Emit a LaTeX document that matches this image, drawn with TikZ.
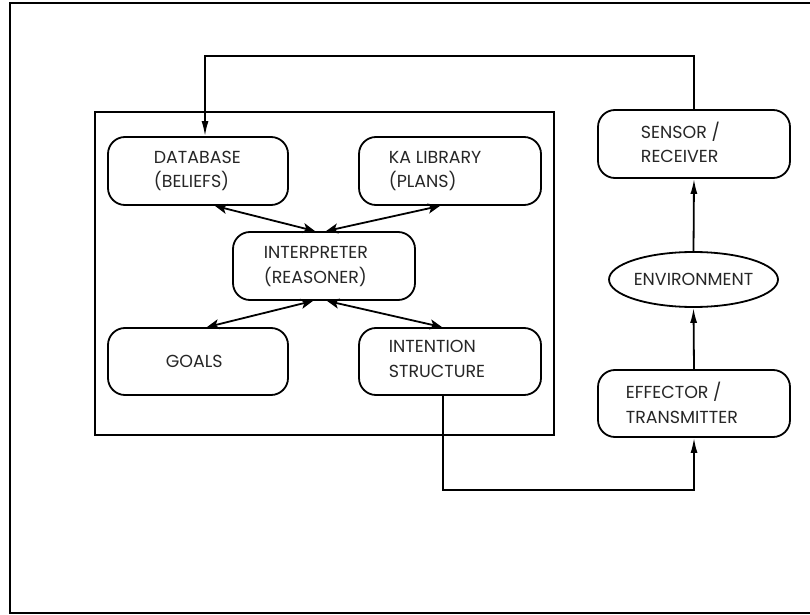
\documentclass[tikz,border=0pt]{standalone}
\usepackage{fontspec}
\setmainfont{Poppins}
\usetikzlibrary{arrows.meta,shapes.geometric,calc}
\begin{document}
\begin{tikzpicture}[x=1bp,y=-1bp,
  line width=1.8bp,
  box/.style={draw, rounded corners=17bp, minimum width=#1, minimum height=68bp, inner sep=0pt},
  txt/.style={anchor=base west, align=left, inner sep=0pt, text=black!85,
    font=\fontsize{17.5}{24.5}\selectfont},
  twoway/.style={{Stealth[length=12bp,width=10bp,inset=3bp]}-{Stealth[length=12bp,width=10bp,inset=3bp]}},
  oneway/.style={-{Latex[length=15bp,width=7bp]}},
]
\useasboundingbox (0,0) rectangle (810,615);

% page frame (open on the right)
\draw (812,3) -- (10,3) -- (10,613) -- (812,613);

% agent boundary
\node[draw, minimum width=459bp, minimum height=323bp, inner sep=0pt] (agent) at (324.5,273.5) {};

% components of the agent
\node[box=180bp] (db) at (198,171) {};
\node[box=182bp] (ka) at (450,171) {};
\node[box=182bp] (interp) at (324,266) {};
\node[box=180bp, minimum height=67bp] (goals) at (198,361.5) {};
\node[box=182bp, minimum height=67bp] (intent) at (450,361.5) {};

% labels (anchored on the baseline of their last line)
\node[txt] (dbt) at (153,188) {DATABASE\\(BELIEFS)};
\node[txt] (kat) at (388,188) {KA LIBRARY\\(PLANS)};
\node[txt] (interpt) at (263,283) {INTERPRETER\\(REASONER)};
\node[txt] (goalst) at (165,367) {GOALS};
\node[txt] (intentt) at (388,377) {INTENTION\\STRUCTURE};

% outside world
\node[box=192bp] (sensor) at (694,144) {};
\node[draw, ellipse, minimum width=167bp, minimum height=55bp, inner sep=0pt,
  font=\fontsize{17.5}{24.5}\selectfont, text=black!85] (env) at (693.5,279.5) {ENVIRONMENT};
\node[box=192bp, minimum height=67bp] (eff) at (694,403.5) {};

\node[txt] (sensort) at (640,163) {SENSOR /\\RECEIVER};
\node[txt] (efft) at (625,423) {EFFECTOR /\\TRANSMITTER};

% reasoning links
\draw[twoway] ([xshift=17bp]db.south) -- ([xshift=-9bp]interp.north);
\draw[twoway] ([xshift=-10bp]ka.south) -- ([xshift=2bp]interp.north);
\draw[twoway] ([xshift=-11bp]interp.south) -- ([xshift=9bp]goals.north);
\draw[twoway] ([xshift=3bp]interp.south) -- ([xshift=-8bp]intent.north);

% perception / action loop
\draw[oneway] (env.north) -- (sensor.south);
\draw[oneway] (eff.north) -- (env.south);
\draw[oneway] (sensor.north) -- ++(0,-53) -| ([xshift=7bp]db.north);
\draw[oneway] ([xshift=-7bp]intent.south) -- ++(0,94) -| (eff.south);
\end{tikzpicture}
\end{document}
